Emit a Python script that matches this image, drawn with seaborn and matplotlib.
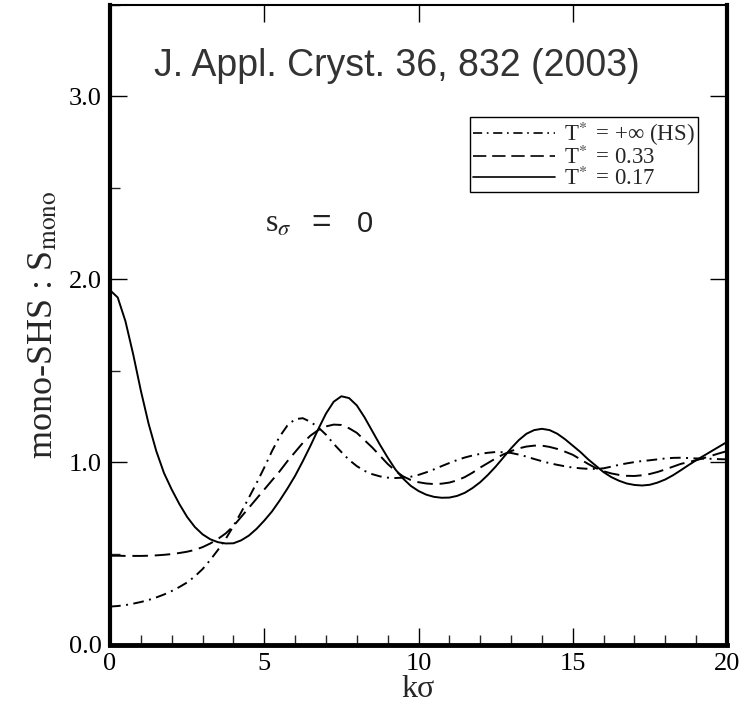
import matplotlib
matplotlib.use("Agg")
import matplotlib.pyplot as plt
import pandas as pd
import seaborn as sns
from matplotlib.lines import Line2D
from matplotlib.ticker import MultipleLocator, FormatStrFormatter

# Data (S(k) for sticky hard spheres, s_sigma = 0)
k = [0.0, 0.25, 0.5, 0.75, 1.0, 1.25, 1.5, 1.75, 2.0, 2.25,
     2.5, 2.75, 3.0, 3.25, 3.5, 3.75, 4.0, 4.25, 4.5, 4.75,
     5.0, 5.25, 5.5, 5.75, 6.0, 6.25, 6.5, 6.75, 7.0, 7.25,
     7.5, 7.75, 8.0, 8.25, 8.5, 8.75, 9.0, 9.25, 9.5, 9.75,
     10.0, 10.25, 10.5, 10.75, 11.0, 11.25, 11.5, 11.75, 12.0, 12.25,
     12.5, 12.75, 13.0, 13.25, 13.5, 13.75, 14.0, 14.25, 14.5, 14.75,
     15.0, 15.25, 15.5, 15.75, 16.0, 16.25, 16.5, 16.75, 17.0, 17.25,
     17.5, 17.75, 18.0, 18.25, 18.5, 18.75, 19.0, 19.25, 19.5, 19.75, 20.0]

s_hs = [0.21, 0.213, 0.218, 0.226, 0.235, 0.246, 0.26, 0.276, 0.295, 0.317,
        0.342, 0.375, 0.415, 0.465, 0.52, 0.58, 0.65, 0.725, 0.805, 0.885,
        0.97, 1.06, 1.14, 1.20, 1.235, 1.24, 1.22, 1.19, 1.15, 1.10,
        1.055, 1.012, 0.978, 0.952, 0.934, 0.922, 0.915, 0.913, 0.915, 0.92,
        0.93, 0.944, 0.96, 0.978, 0.995, 1.011, 1.025, 1.036, 1.045, 1.051,
        1.055, 1.054, 1.05, 1.041, 1.03, 1.017, 1.005, 0.994, 0.985, 0.977,
        0.97, 0.966, 0.963, 0.963, 0.966, 0.975, 0.985, 0.993, 1.0, 1.006,
        1.01, 1.015, 1.02, 1.023, 1.024, 1.022, 1.02, 1.019, 1.018, 1.016, 1.015]

s_033 = [0.488, 0.488, 0.487, 0.487, 0.487, 0.488, 0.49, 0.493, 0.497, 0.503,
         0.51, 0.52, 0.535, 0.555, 0.58, 0.61, 0.65, 0.70, 0.75, 0.80,
         0.85, 0.90, 0.95, 1.005, 1.055, 1.105, 1.145, 1.175, 1.195, 1.205,
         1.203, 1.185, 1.16, 1.12, 1.08, 1.035, 0.99, 0.952, 0.922, 0.902,
         0.89, 0.883, 0.88, 0.882, 0.888, 0.90, 0.918, 0.942, 0.97, 0.995,
         1.02, 1.042, 1.06, 1.075, 1.085, 1.09, 1.09, 1.083, 1.072, 1.057,
         1.04, 1.015, 0.99, 0.967, 0.95, 0.938, 0.93, 0.925, 0.924, 0.928,
         0.935, 0.946, 0.96, 0.975, 0.99, 1.0, 1.01, 1.022, 1.035, 1.048, 1.06]

s_017 = [1.94, 1.90, 1.77, 1.59, 1.39, 1.21, 1.06, 0.94, 0.85, 0.77,
         0.70, 0.645, 0.605, 0.578, 0.562, 0.555, 0.556, 0.572, 0.598, 0.635,
         0.68, 0.73, 0.79, 0.855, 0.925, 1.005, 1.09, 1.18, 1.265, 1.33,
         1.36, 1.35, 1.31, 1.245, 1.17, 1.095, 1.025, 0.96, 0.91, 0.87,
         0.842, 0.822, 0.81, 0.805, 0.806, 0.815, 0.832, 0.858, 0.89, 0.93,
         0.975, 1.025, 1.075, 1.12, 1.155, 1.175, 1.182, 1.175, 1.155, 1.125,
         1.09, 1.055, 1.015, 0.98, 0.945, 0.918, 0.898, 0.883, 0.875, 0.872,
         0.876, 0.888, 0.905, 0.928, 0.955, 0.983, 1.01, 1.035, 1.06, 1.085, 1.11]

labels = ["T$^{\\!*}$ = +\u221e (HS)", "T$^{\\!*}$ = 0.33", "T$^{\\!*}$ = 0.17"]
dash_styles = {labels[0]: (5.5, 2.8, 1, 2.8), labels[1]: (8, 3.5), labels[2]: ""}

df = pd.DataFrame({
    "k": k * 3,
    "S": s_hs + s_033 + s_017,
    "T": [labels[0]] * len(k) + [labels[1]] * len(k) + [labels[2]] * len(k),
})

sns.set_style("ticks")
plt.rcParams["font.family"] = ["Liberation Serif", "DejaVu Serif"]
plt.rcParams["mathtext.fontset"] = "stix"

fig = plt.figure(figsize=(7.5, 7.2), dpi=100)
ax = fig.add_axes([0.1467, 0.1042, 0.8226, 0.889])

sns.lineplot(data=df, x="k", y="S", style="T", dashes=dash_styles,
             color="black", linewidth=1.4, ax=ax, legend=False, sort=False)

ax.set_xlim(0, 20)
ax.set_ylim(0, 3.5)
ax.xaxis.set_major_locator(MultipleLocator(5))
ax.xaxis.set_minor_locator(MultipleLocator(1))
ax.yaxis.set_major_locator(MultipleLocator(1))
ax.yaxis.set_minor_locator(MultipleLocator(0.5))
ax.yaxis.set_major_formatter(FormatStrFormatter("%.1f"))

ax.tick_params(which="major", direction="in", length=12, width=1,
               top=True, right=True, labelsize=19, colors="black", pad=6)
ax.tick_params(which="minor", direction="in", length=7, width=1,
               top=False, right=False)

ax.spines["left"].set_linewidth(3)
ax.spines["bottom"].set_linewidth(3.5)
ax.spines["right"].set_linewidth(3)
ax.spines["top"].set_linewidth(1.5)
for s in ax.spines.values():
    s.set_color("black")

ax.set_xlabel("k\u03c3", fontsize=23, labelpad=0)
ax.set_ylabel("mono-SHS : S$_{\\mathrm{mono}}$", fontsize=26, labelpad=6)

# citation and parameter annotations
sans = ["Liberation Sans", "DejaVu Sans"]
ax.text(0.465, 0.905, "J. Appl. Cryst. 36, 832 (2003)", transform=ax.transAxes,
        ha="center", va="center", fontsize=27, color="#333333", family=sans)
ax.text(0.251, 0.645, "s$_{\\sigma}$", transform=ax.transAxes,
        ha="left", va="baseline", fontsize=23, color="#222222")
ax.text(0.327, 0.645, "=", transform=ax.transAxes,
        ha="left", va="baseline", fontsize=24, color="#222222", family=sans)
ax.text(0.400, 0.645, "0", transform=ax.transAxes,
        ha="left", va="baseline", fontsize=21, color="#222222", family=sans)

handles = [Line2D([], [], color="black", linewidth=1.2,
                  linestyle=(0, dash_styles[labels[0]])),
           Line2D([], [], color="black", linewidth=1.2,
                  linestyle=(0, dash_styles[labels[1]])),
           Line2D([], [], color="black", linewidth=1.2, linestyle="-")]
leg = ax.legend(handles, labels, loc="upper right", bbox_to_anchor=(0.953, 0.825),
                fontsize=16.5, frameon=True, fancybox=False, framealpha=1,
                edgecolor="black", borderpad=0.12, labelspacing=-0.1,
                handlelength=3.6, handletextpad=0.4, borderaxespad=0)
leg.get_frame().set_linewidth(1)

fig.savefig("out.png", dpi=100)
